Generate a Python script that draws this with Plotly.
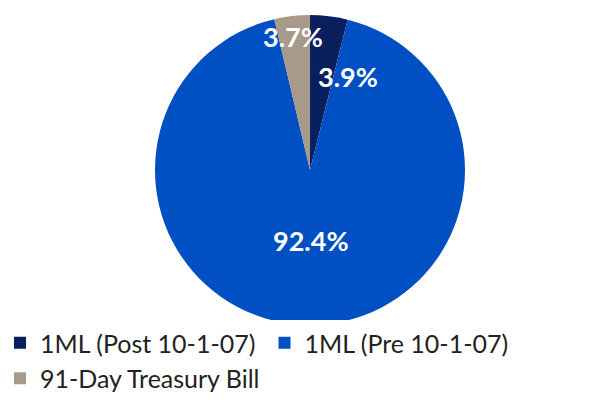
import plotly.graph_objects as go

labels = ["1ML (Post 10-1-07)", "1ML (Pre 10-1-07)", "91-Day Treasury Bill"]
values = [3.9, 92.4, 3.7]
colors = ["#0a1f5e", "#0050c3", "#a89a88"]

W, H = 604, 404
cx, cy, r = 310, 170, 155

fig = go.Figure(go.Pie(
    labels=labels, values=values, sort=False, direction="clockwise", rotation=0,
    marker=dict(colors=colors, line=dict(width=0)),
    textinfo="none", hoverinfo="label+percent",
    domain=dict(x=[(cx - r) / W, (cx + r) / W], y=[1 - (cy + r) / H, 1 - (cy - r) / H]),
))

# label positions (pixels) for each slice
label_pos = [(348, 77), (311, 240), (293, 37)]
for v, (px, py) in zip(values, label_pos):
    fig.add_annotation(x=px / W, y=1 - py / H, xref="paper", yref="paper",
                       xanchor="center", yanchor="middle",
                       text=f"<b>{v:.1f}%</b>", showarrow=False,
                       font=dict(family="Lato", size=27, color="white"))

fig.update_layout(
    width=W, height=H, margin=dict(l=0, r=0, t=0, b=0),
    paper_bgcolor="white", plot_bgcolor="white",
    font=dict(family="Lato", size=25, color="#222"),
    showlegend=True,
    legend=dict(orientation="h", x=0.0, y=1 - 320 / H, xanchor="left", yanchor="top",
                font=dict(size=25), itemwidth=30, traceorder="normal"),
)
fig.write_html("out.html", config={"displayModeBar": False},
               post_script="document.body.style.margin='0';")
